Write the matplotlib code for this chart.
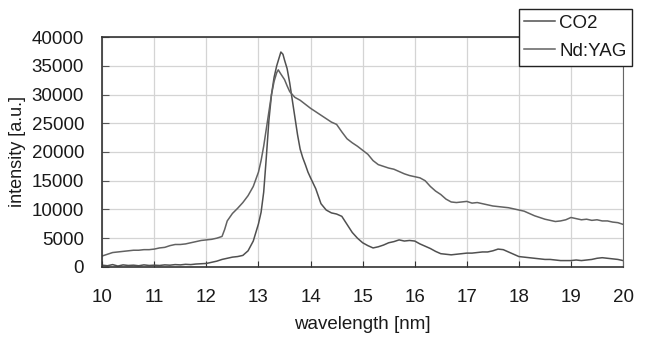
import matplotlib
matplotlib.use("Agg")
import matplotlib.pyplot as plt

plt.rcParams['font.family'] = ['Liberation Sans', 'DejaVu Sans']

co2_wl = [10.0, 10.1, 10.2, 10.3, 10.4, 10.5, 10.6, 10.7, 10.8, 10.9,
          11.0, 11.1, 11.2, 11.3, 11.4, 11.5, 11.6, 11.7, 11.8, 11.9,
          12.0, 12.1, 12.2, 12.3, 12.4, 12.5, 12.6, 12.7, 12.8, 12.9,
          13.0, 13.05, 13.1, 13.15, 13.2, 13.25, 13.3, 13.35, 13.4, 13.43,
          13.47, 13.5, 13.55, 13.6, 13.65, 13.7, 13.75, 13.8, 13.85, 13.9,
          13.95, 14.0, 14.1, 14.2, 14.3, 14.4, 14.5, 14.6, 14.7, 14.8,
          14.9, 15.0, 15.1, 15.2, 15.3, 15.4, 15.5, 15.6, 15.7, 15.8,
          15.9, 16.0, 16.1, 16.2, 16.3, 16.4, 16.5, 16.6, 16.7, 16.8,
          16.9, 17.0, 17.1, 17.2, 17.3, 17.4, 17.5, 17.6, 17.7, 17.8,
          17.9, 18.0, 18.1, 18.2, 18.3, 18.4, 18.5, 18.6, 18.7, 18.8,
          18.9, 19.0, 19.1, 19.2, 19.3, 19.4, 19.5, 19.6, 19.7, 19.8,
          19.9, 20.0]
co2_int = [300, 200, 400, 150, 350, 250, 300, 200, 350, 250,
           300, 250, 350, 300, 400, 350, 450, 400, 500, 550,
           600, 800, 1000, 1300, 1500, 1700, 1800, 2000, 2800, 4500,
           7500, 9500, 13000, 19000, 25500, 30000, 33000, 35000, 36500, 37400,
           37000, 36000, 34500, 32000, 29000, 26000, 23000, 20500, 19000, 17800,
           16500, 15500, 13600, 11000, 9900, 9400, 9200, 8800, 7400, 6000,
           5000, 4200, 3700, 3300, 3500, 3800, 4200, 4400, 4700, 4500,
           4600, 4500, 4000, 3600, 3200, 2700, 2300, 2200, 2100, 2200,
           2300, 2400, 2400, 2500, 2600, 2600, 2800, 3100, 3000, 2600,
           2200, 1800, 1700, 1600, 1500, 1400, 1300, 1300, 1200, 1100,
           1100, 1100, 1200, 1100, 1200, 1300, 1500, 1600, 1500, 1400,
           1300, 1100]

yag_wl = [10.0, 10.1, 10.2, 10.3, 10.4, 10.5, 10.6, 10.7, 10.8, 10.9,
          11.0, 11.1, 11.2, 11.3, 11.4, 11.5, 11.6, 11.7, 11.8, 11.9,
          12.0, 12.1, 12.2, 12.3, 12.35, 12.4, 12.5, 12.6, 12.7, 12.8,
          12.9, 13.0, 13.05, 13.1, 13.15, 13.2, 13.25, 13.3, 13.35, 13.38,
          13.42, 13.5, 13.55, 13.6, 13.65, 13.7, 13.8, 13.9, 14.0, 14.1,
          14.2, 14.3, 14.4, 14.5, 14.6, 14.7, 14.8, 14.9, 15.0, 15.1,
          15.2, 15.3, 15.4, 15.5, 15.6, 15.7, 15.8, 15.9, 16.0, 16.1,
          16.2, 16.3, 16.4, 16.5, 16.6, 16.7, 16.8, 16.9, 17.0, 17.1,
          17.2, 17.3, 17.4, 17.5, 17.6, 17.7, 17.8, 17.9, 18.0, 18.1,
          18.2, 18.3, 18.4, 18.5, 18.6, 18.7, 18.8, 18.9, 19.0, 19.1,
          19.2, 19.3, 19.4, 19.5, 19.6, 19.7, 19.8, 19.9, 20.0]
yag_int = [1900, 2200, 2500, 2600, 2700, 2800, 2900, 2900, 3000, 3000,
           3100, 3300, 3400, 3700, 3900, 3900, 4000, 4200, 4400, 4600,
           4700, 4800, 5000, 5300, 6500, 8000, 9300, 10200, 11200, 12400,
           14000, 16500, 18500, 21000, 24000, 27000, 30000, 32300, 33800, 34300,
           33700, 32600, 31500, 30500, 30000, 29500, 29000, 28300, 27600, 27000,
           26400, 25800, 25200, 24800, 23500, 22300, 21600, 21000, 20300, 19600,
           18500, 17800, 17500, 17200, 17000, 16600, 16200, 15900, 15700, 15500,
           15000, 14000, 13200, 12600, 11800, 11300, 11200, 11300, 11400, 11100,
           11200, 11000, 10800, 10600, 10500, 10400, 10300, 10100, 9900, 9700,
           9300, 8900, 8600, 8300, 8100, 7900, 8000, 8200, 8600, 8400,
           8200, 8300, 8100, 8200, 8000, 8000, 7800, 7700, 7400]

x_ticks = [10, 11, 12, 13, 14, 15, 16, 17, 18, 19, 20]
y_ticks = [0, 5000, 10000, 15000, 20000, 25000, 30000, 35000, 40000]

fig = plt.figure(figsize=(6.47, 3.4), dpi=100)
ax = fig.add_axes([0.158, 0.215, 0.805, 0.676])

ax.plot(co2_wl, co2_int, color='#505050', linewidth=1.1, label='CO2')
ax.plot(yag_wl, yag_int, color='#626262', linewidth=1.1, label='Nd:YAG')

ax.set_xlim(10, 20)
ax.set_ylim(0, 40000)
ax.set_xticks(x_ticks)
ax.set_yticks(y_ticks)
ax.tick_params(axis='x', direction='in', length=4, pad=16, labelsize=13.5,
               color='#333333', labelcolor='#1a1a1a')
ax.tick_params(axis='y', direction='in', length=5, pad=13, labelsize=13.5,
               color='#555555', labelcolor='#1a1a1a')

ax.grid(True, color='#d4d4d4', linewidth=0.9)
ax.set_axisbelow(True)
for side in ['left', 'bottom', 'top']:
    ax.spines[side].set_color('#333333')
    ax.spines[side].set_linewidth(1.2)
ax.spines['right'].set_color('#666666')

ax.set_xlabel('wavelength [nm]', fontsize=13.5, labelpad=7, color='#1a1a1a')
ax.set_ylabel('intensity [a.u.]', fontsize=13, labelpad=4, color='#1a1a1a')

leg = fig.legend(loc='upper right', bbox_to_anchor=(0.977, 0.974), fontsize=13.5,
                 fancybox=False, edgecolor='#222222', framealpha=1,
                 handlelength=1.65, borderaxespad=0, borderpad=0.3,
                 labelspacing=0.6, handletextpad=0.2)
leg.get_frame().set_linewidth(1.0)
for t in leg.get_texts():
    t.set_color('#1a1a1a')

fig.savefig('out.png', dpi=100)
